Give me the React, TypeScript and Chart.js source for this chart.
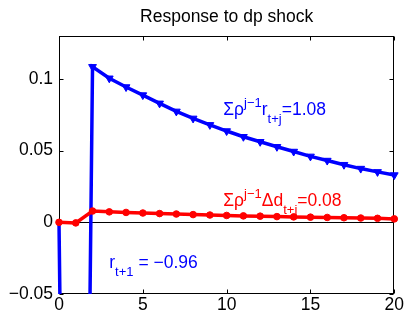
import React, { useEffect, useRef } from "react";
import { Chart, registerables } from "chart.js";

Chart.register(...registerables);

// ---- data ----
const steps = [0, 1, 2, 3, 4, 5, 6, 7, 8, 9, 10, 11, 12, 13, 14, 15, 16, 17, 18, 19, 20];
const returnResponse = [
  0, -0.96, 0.1085, 0.1005, 0.0944, 0.0888, 0.083, 0.0774, 0.0725, 0.068, 0.0637,
  0.0597, 0.0562, 0.0527, 0.0494, 0.046, 0.0431, 0.0402, 0.0375, 0.0352, 0.033,
];
const dividendResponse = [
  0, -0.0004, 0.0079, 0.0073, 0.0069, 0.0065, 0.0061, 0.0058, 0.0054, 0.0051, 0.0048,
  0.0045, 0.0043, 0.004, 0.0038, 0.0036, 0.0034, 0.0032, 0.003, 0.0028, 0.0024,
];
const xTicks = [0, 5, 10, 15, 20];
const xTickLabels = ["0", "5", "10", "15", "20"];
const yTicks = [-0.05, 0, 0.05, 0.1];
const yTickLabels = ["\u22120.05", "0", "0.05", "0.1"];
const titleText = "Response to dp shock";

type Part = { t: string; s: "main" | "sup" | "sub" };
const annotations: { x: number; y: number; color: string; parts: Part[] }[] = [
  {
    x: 9.8,
    y: 0.0752,
    color: "#0000ff",
    parts: [
      { t: "\u03a3\u03c1", s: "main" },
      { t: "j\u22121", s: "sup" },
      { t: "r", s: "main" },
      { t: "t+j", s: "sub" },
      { t: "=1.08", s: "main" },
    ],
  },
  {
    x: 9.8,
    y: 0.0112,
    color: "#ff0000",
    parts: [
      { t: "\u03a3\u03c1", s: "main" },
      { t: "j\u22121", s: "sup" },
      { t: "\u0394d", s: "main" },
      { t: "t+j", s: "sub" },
      { t: "=0.08", s: "main" },
    ],
  },
  {
    x: 3.0,
    y: -0.0318,
    color: "#0000ff",
    parts: [
      { t: "r", s: "main" },
      { t: "t+1", s: "sub" },
      { t: " = \u22120.96", s: "main" },
    ],
  },
];

const FONT = '"Liberation Sans", Arial, Helvetica, sans-serif';
const MAIN = 17.5;
const SMALL = 13;

const framePlugin = {
  id: "frame",
  beforeDatasetsDraw(chart: any) {
    const { ctx, chartArea } = chart;
    const xs = chart.scales.x;
    const ys = chart.scales.y;
    const l = Math.round(chartArea.left) + 0.5;
    const r = Math.round(chartArea.right) - 0.5;
    const t = Math.round(chartArea.top) + 0.5;
    const b = Math.round(chartArea.bottom) - 0.5;
    ctx.save();
    ctx.strokeStyle = "#000";
    ctx.lineWidth = 1;
    // zero line
    const y0 = Math.round(ys.getPixelForValue(0)) + 0.5;
    ctx.beginPath();
    ctx.moveTo(l, y0);
    ctx.lineTo(r, y0);
    ctx.stroke();
    // box
    ctx.strokeRect(l, t, r - l, b - t);
    // inward ticks
    const len = 4;
    ctx.beginPath();
    for (const v of xTicks) {
      const px = Math.round(xs.getPixelForValue(v)) + 0.5;
      ctx.moveTo(px, b);
      ctx.lineTo(px, b - len);
      ctx.moveTo(px, t);
      ctx.lineTo(px, t + len);
    }
    for (const v of yTicks) {
      const py = Math.round(ys.getPixelForValue(v)) + 0.5;
      ctx.moveTo(l, py);
      ctx.lineTo(l + len, py);
      ctx.moveTo(r, py);
      ctx.lineTo(r - len, py);
    }
    ctx.stroke();
    ctx.restore();
  },
  afterDatasetsDraw(chart: any) {
    const { ctx, chartArea } = chart;
    const xs = chart.scales.x;
    const ys = chart.scales.y;
    ctx.save();
    // title
    ctx.fillStyle = "#000";
    ctx.font = `${MAIN}px ${FONT}`;
    ctx.textAlign = "center";
    ctx.textBaseline = "alphabetic";
    ctx.fillText(titleText, (chartArea.left + chartArea.right) / 2, chartArea.top - 14.5);
    // annotations
    ctx.textAlign = "left";
    for (const a of annotations) {
      let px = xs.getPixelForValue(a.x);
      const py = ys.getPixelForValue(a.y);
      ctx.fillStyle = a.color;
      for (const p of a.parts) {
        const size = p.s === "main" ? MAIN : SMALL;
        const dy = p.s === "sup" ? -8 : p.s === "sub" ? 8 : 0;
        ctx.font = `${size}px ${FONT}`;
        ctx.fillText(p.t, px, py + dy);
        px += ctx.measureText(p.t).width;
      }
    }
    ctx.restore();
  },
};

export default function App() {
  const ref = useRef<HTMLCanvasElement | null>(null);

  useEffect(() => {
    document.body.style.margin = "0";
    const canvas = ref.current;
    if (!canvas) return;
    const tickFont = { family: FONT, size: MAIN };
    const chart = new Chart(canvas, {
      type: "line",
      data: {
        datasets: [
          {
            data: steps.map((x, i) => ({ x, y: dividendResponse[i] })),
            borderColor: "#ff0000",
            backgroundColor: "#ff0000",
            borderWidth: 3.5,
            pointRadius: 3.3,
            pointStyle: "circle",
            pointBorderWidth: 1,
            pointBorderColor: "#ff0000",
            pointBackgroundColor: "#ff0000",
            tension: 0,
            clip: { left: 6, right: 6, top: 0, bottom: 0 },
          } as any,
          {
            data: steps.map((x, i) => ({ x, y: returnResponse[i] })),
            borderColor: "#0000ff",
            backgroundColor: "#0000ff",
            borderWidth: 3.5,
            pointStyle: "triangle",
            rotation: 180,
            pointRadius: (c: any) => (c.dataIndex < 2 ? 0 : 4.5),
            pointBorderWidth: 1,
            pointBorderColor: "#0000ff",
            pointBackgroundColor: "#0000ff",
            tension: 0,
            clip: { left: 6, right: 6, top: 0, bottom: 0 },
          } as any,
        ],
      },
      options: {
        responsive: false,
        animation: false,
        devicePixelRatio: 1,
        layout: { padding: { top: 36, right: 9, left: 0, bottom: 0 } },
        plugins: {
          legend: { display: false },
          title: { display: false },
          tooltip: { enabled: false },
        },
        scales: {
          x: {
            type: "linear",
            min: 0,
            max: 20,
            grid: { display: false, drawTicks: false },
            border: { display: false },
            ticks: {
              font: tickFont,
              color: "#000",
              padding: 1,
              maxRotation: 0,
              autoSkip: false,
              callback: (_v: any, i: number) => xTickLabels[i],
            },
            afterBuildTicks: (s: any) => {
              s.ticks = xTicks.map((v) => ({ value: v }));
            },
            afterFit: (s: any) => {
              s.height = 27;
            },
          },
          y: {
            type: "linear",
            min: -0.05,
            max: 0.13,
            grid: { display: false, drawTicks: false },
            border: { display: false },
            ticks: {
              font: tickFont,
              color: "#000",
              padding: 6,
              autoSkip: false,
              callback: (_v: any, i: number) => yTickLabels[i],
            },
            afterBuildTicks: (s: any) => {
              s.ticks = yTicks.map((v) => ({ value: v }));
            },
            afterFit: (s: any) => {
              s.width = 59;
            },
          },
        },
      } as any,
      plugins: [framePlugin],
    });
    return () => chart.destroy();
  }, []);

  return (
    <div style={{ width: 405, height: 321, background: "#fff" }}>
      <canvas ref={ref} width={405} height={321} style={{ display: "block" }} />
    </div>
  );
}
